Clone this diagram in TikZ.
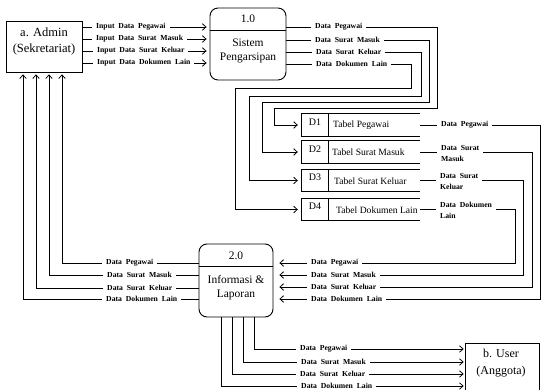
\documentclass[tikz,border=0pt]{standalone}
\usepackage{fontspec}
\setmainfont{Liberation Serif}
\newfontfamily\lblfont[WordSpace=2]{Liberation Serif}
\usetikzlibrary{arrows.meta}
\begin{document}
\begin{tikzpicture}[x=1pt,y=-1pt,
  line/.style={draw=black,line width=0.8pt},
  arr/.style={line,-{Straight Barb[length=3.5pt,width=6.5pt,line width=0.8pt]}},
  lbl/.style={font=\lblfont\fontsize{7.7}{8}\selectfont\bfseries, fill=white, inner xsep=4pt, inner ysep=1pt, anchor=west},
  lbl2/.style={lbl, align=left, font=\lblfont\fontsize{7.7}{10.5}\selectfont\bfseries},
  ent/.style={draw, line width=0.8pt, inner sep=0pt},
  proc/.style={draw, line width=0.9pt, rounded corners=8pt, inner sep=0pt},
  maintxt/.style={font=\fontsize{12.5}{16}\selectfont, align=center, inner sep=0pt},
  proctxt/.style={font=\fontsize{11.5}{14}\selectfont, align=center, inner sep=0pt},
  stid/.style={font=\fontsize{10}{12}\selectfont, inner sep=0pt},
  stname/.style={font=\fontsize{9.6}{12}\selectfont, inner sep=0pt, anchor=west},
  store/.style={minimum width=118pt, minimum height=22pt, inner sep=0pt}
]
\useasboundingbox (0,0) rectangle (541,390);
\clip (0,0) rectangle (541,390);

% entities
\node[ent, minimum width=76pt, minimum height=51pt] (admin) at (44,46.5) {};
\node[maintxt] (admintxt) at (44,41.5) {a. Admin\\(Sekretariat)};
\node[ent, minimum width=74pt, minimum height=60pt] (user) at (502,373) {};
\node[maintxt, font=\fontsize{12}{17}\selectfont] (usertxt) at (501,363.5) {b. User\\(Anggota)};

% processes
\node[proc, minimum width=76pt, minimum height=72pt] (p1) at (248,44) {};
\draw[line] (p1.west |- 0,30) -- (p1.east |- 0,30);
\node[proctxt] (p1id) at (248,19) {1.0};
\node[proctxt] (p1txt) at (248,51) {Sistem\\Pengarsipan};

\node[proc, minimum width=74pt, minimum height=73pt] (p2) at (236,280.5) {};
\draw[line] (p2.west |- 0,266) -- (p2.east |- 0,266);
\node[proctxt] (p2id) at (236,256) {2.0};
\node[proctxt, font=\fontsize{11.5}{13.5}\selectfont] (p2txt) at (236,287.5) {Informasi \&\\Laporan};

% data stores
\node[store] (s1) at (361,125) {};
\node[store] (s2) at (361,152) {};
\node[store] (s3) at (361,180.5) {};
\node[store] (s4) at (361,209.5) {};
\draw[line] (s1.north east) -- (s1.north west) -- (s1.south west) -- (s1.south east);
\draw[line] ([xshift=27pt]s1.north west) -- ([xshift=27pt]s1.south west);
\draw[line] (s2.north east) -- (s2.north west) -- (s2.south west) -- (s2.south east);
\draw[line] ([xshift=27pt]s2.north west) -- ([xshift=27pt]s2.south west);
\draw[line] (s3.north east) -- (s3.north west) -- (s3.south west) -- (s3.south east);
\draw[line] ([xshift=27pt]s3.north west) -- ([xshift=27pt]s3.south west);
\draw[line] (s4.north east) -- (s4.north west) -- (s4.south west) -- (s4.south east);
\draw[line] ([xshift=27pt]s4.north west) -- ([xshift=27pt]s4.south west);
\node[stid] (s1id) at (315,122) {D1};
\node[stid] (s2id) at (315,149) {D2};
\node[stid] (s3id) at (315,177.5) {D3};
\node[stid] (s4id) at (315,206.5) {D4};
\node[stname] (s1name) at (333,125) {Tabel Pegawai};
\node[stname] (s2name) at (332,152) {Tabel Surat Masuk};
\node[stname] (s3name) at (334,181) {Tabel Surat Keluar};
\node[stname] (s4name) at (336,210) {Tabel Dokumen Lain};

% admin -> 1.0
\draw[arr, shorten >=3pt] (admin.east |- 0,27) -- (p1.west |- 0,27);
\draw[arr, shorten >=3pt] (admin.east |- 0,39) -- (p1.west |- 0,39);
\draw[arr, shorten >=3pt] (admin.east |- 0,51) -- (p1.west |- 0,51);
\draw[arr, shorten >=3pt] (admin.east |- 0,63) -- (p1.west |- 0,63);
\node[lbl] (li1) at (92,27) {Input Data Pegawai};
\node[lbl] (li2) at (92,39) {Input Data Surat Masuk};
\node[lbl] (li3) at (93,51) {Input Data Surat Keluar};
\node[lbl] (li4) at (93,63) {Input Data Dokumen Lain};

% 1.0 -> stores
\draw[arr, shorten >=4pt] (p1.east |- 0,27) -- (437,27) -- (437,108) -- (274,108) -- (s1.west -| 274,0) -- (s1.west);
\draw[arr, shorten >=4pt] (p1.east |- 0,40) -- (429,40) -- (429,102) -- (262,102) -- (s2.west -| 262,0) -- (s2.west);
\draw[arr, shorten >=4pt] (p1.east |- 0,52) -- (421,52) -- (421,96) -- (249,96) -- (s3.west -| 249,0) -- (s3.west);
\draw[arr, shorten >=4pt] (p1.east |- 0,64) -- (411,64) -- (411,88) -- (235,88) -- (s4.west -| 235,0) -- (s4.west);
\node[lbl] (lo1) at (311,27) {Data Pegawai};
\node[lbl] (lo2) at (311,40) {Data Surat Masuk};
\node[lbl] (lo3) at (312,52) {Data Surat Keluar};
\node[lbl] (lo4) at (312,64) {Data Dokumen Lain};

% stores -> 2.0
\draw[arr, shorten >=6pt] (s1.east) -- (s1.east -| 540,0) -- (540,299) -- (p2.east |- 0,299);
\draw[arr, shorten >=6pt] (s2.east) -- (s2.east -| 532,0) -- (532,287) -- (p2.east |- 0,287);
\draw[arr, shorten >=6pt] (s3.east) -- (s3.east -| 523,0) -- (523,275) -- (p2.east |- 0,275);
\draw[arr, shorten >=6pt] (s4.east) -- (s4.east -| 515,0) -- (515,263) -- (p2.east |- 0,263);
\node[lbl] (ls1) at (437,125) {Data Pegawai};
\node[lbl2] (ls2) at (437,153.5) {Data Surat\\Masuk};
\node[lbl2] (ls3) at (436,181.5) {Data Surat\\Keluar};
\node[lbl2] (ls4) at (436,210.5) {Data Dokumen\\Lain};
\node[lbl] (lp1) at (307,263) {Data Pegawai};
\node[lbl] (lp2) at (307,275) {Data Surat Masuk};
\node[lbl] (lp3) at (307,287) {Data Surat Keluar};
\node[lbl] (lp4) at (307,299) {Data Dokumen Lain};

% 2.0 -> admin
\draw[arr, shorten >=2pt] (p2.west |- 0,263) -- (62,263) -- (admin.south -| 62,0);
\draw[arr, shorten >=2pt] (p2.west |- 0,275) -- (49,275) -- (admin.south -| 49,0);
\draw[arr, shorten >=2pt] (p2.west |- 0,288) -- (36,288) -- (admin.south -| 36,0);
\draw[arr, shorten >=2pt] (p2.west |- 0,299) -- (23,299) -- (admin.south -| 23,0);
\node[lbl] (la1) at (102,263) {Data Pegawai};
\node[lbl] (la2) at (103,275) {Data Surat Masuk};
\node[lbl] (la3) at (103,288) {Data Surat Keluar};
\node[lbl] (la4) at (102,299) {Data Dokumen Lain};

% 2.0 -> user
\draw[arr, shorten >=1pt] (p2.south -| 254,0) -- (254,349) -- (user.west |- 0,349);
\draw[arr, shorten >=1pt] (p2.south -| 243,0) -- (243,362) -- (user.west |- 0,362);
\draw[arr, shorten >=1pt] (p2.south -| 232,0) -- (232,374) -- (user.west |- 0,374);
\draw[arr, shorten >=1pt] (p2.south -| 221,0) -- (221,386) -- (user.west |- 0,386);
\node[lbl] (lu1) at (296,349) {Data Pegawai};
\node[lbl] (lu2) at (297,362) {Data Surat Masuk};
\node[lbl] (lu3) at (296,374) {Data Surat Keluar};
\node[lbl] (lu4) at (297,386) {Data Dokumen Lain};
\end{tikzpicture}
\end{document}
